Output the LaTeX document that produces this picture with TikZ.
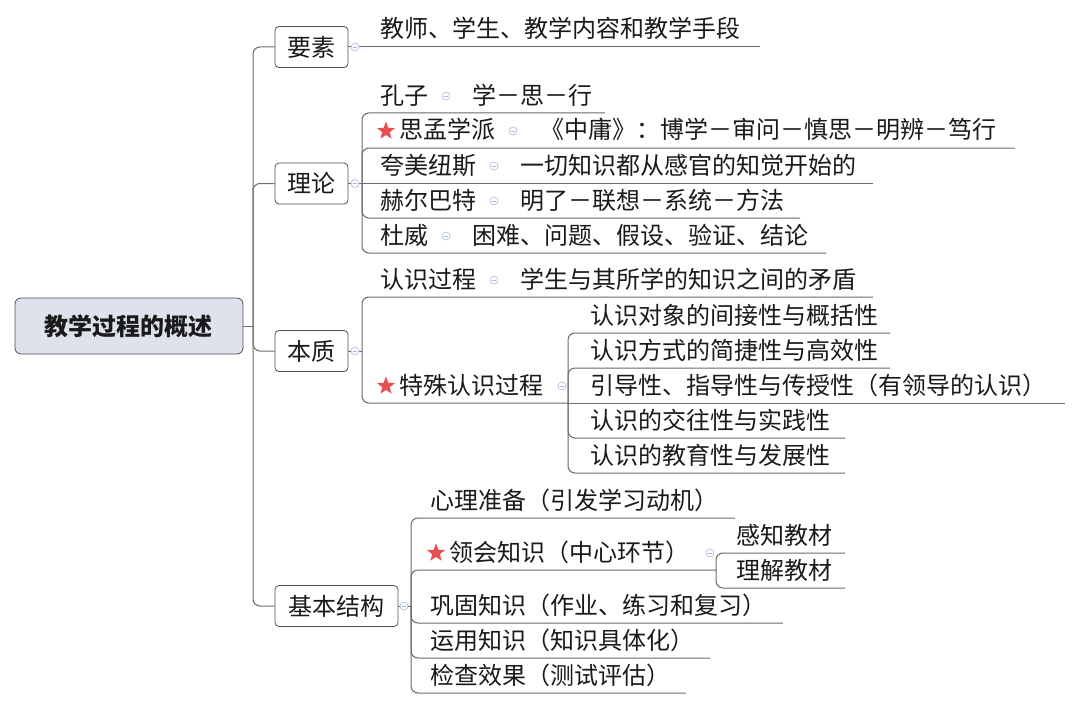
\documentclass[tikz,border=0pt]{standalone}
\usepackage{fontspec}
\newfontfamily\cjk{Noto Sans CJK SC}
\usetikzlibrary{shapes.geometric}
\definecolor{linec}{HTML}{6A6A6A}
\definecolor{boxc}{HTML}{505050}
\definecolor{rootfill}{HTML}{DDE2EC}
\definecolor{iconc}{HTML}{A8B8E0}
\definecolor{starc}{HTML}{E85050}
\definecolor{txtc}{HTML}{1A1A1A}
\tikzset{
  txt/.style={anchor=base west, inner sep=0pt, font=\cjk\fontsize{24}{26}\selectfont, text=txtc},
  topic/.style={draw=boxc, rounded corners=4pt, fill=white, minimum height=41pt, inner sep=0pt, line width=0.8pt, font=\cjk\fontsize{24}{26}\selectfont, text=txtc},
  rootbox/.style={draw=boxc, rounded corners=6pt, fill=rootfill, minimum height=56pt, minimum width=228pt, inner sep=0pt, line width=0.8pt, font=\cjk\bfseries\fontsize{24}{26}\selectfont, text=txtc},
  conn/.style={draw=linec, line width=1pt},
  elbow/.style={conn, rounded corners=7pt},
  iconn/.style={circle, draw=iconc, fill=white, minimum size=8pt, inner sep=0pt, line width=0.6pt,
    path picture={\draw[iconc, line width=0.6pt] ([xshift=-2.2pt]path picture bounding box.center) -- ([xshift=2.2pt]path picture bounding box.center);}},
  starn/.style={star, star points=5, star point ratio=2.4, fill=starc, minimum size=19pt, inner sep=0pt}
}
\begin{document}
\begin{tikzpicture}[x=1pt,y=-1pt]
\useasboundingbox (0,0) rectangle (1080,709);
\fill[white] (0,0) rectangle (1080,709);

% root and main topics
\node[rootbox] (root) at (129,326) {教学过程的概述};
\node[topic, minimum width=73pt] (yaosu) at (311.5,47) {要素};
\node[topic, minimum width=73pt] (lilun) at (311.5,183.5) {理论};
\node[topic, minimum width=73pt] (benzhi) at (311.5,351) {本质};
\node[topic, minimum width=123pt] (jiben) at (336.5,606) {基本结构};

\coordinate (J) at (253,326);
\draw[conn] (root.east) -- (J);
\draw[elbow] (J) -- (253,47) -- (yaosu.west);
\draw[elbow] (J) -- (253,183.5) -- (lilun.west);
\draw[elbow] (J) -- (253,351) -- (benzhi.west);
\draw[elbow] (J) -- (253,606) -- (jiben.west);

% ---------- 要素
\coordinate (ye) at (760,47);
\draw[conn] (yaosu.east) -- (ye);
\node[txt] (y1) at (380,38) {教师、学生、教学内容和教学手段};

% ---------- 理论
\coordinate (B1) at (362,183.5);
\draw[conn] (lilun.east) -- (B1);
\coordinate (l1) at (605,113);
\coordinate (l2) at (1015,148);
\coordinate (l3) at (873,183.5);
\coordinate (l4) at (800,218);
\coordinate (l5) at (826,253);
\draw[elbow] (B1) -- (362,113) -- (l1);
\draw[elbow] (B1) -- (362,148) -- (l2);
\draw[conn] (B1) -- (l3);
\draw[elbow] (B1) -- (362,218) -- (l4);
\draw[elbow] (B1) -- (362,253) -- (l5);

\node[txt] (kz) at (380,104) {孔子};
\node[txt] (kzd) at (472,104) {学－思－行};
\node[starn] (s1) at (386,131) {};
\node[txt] (sm) at (399,139) {思孟学派};
\node[txt] (smd) at (540,139) {《中庸》：博学－审问－慎思－明辨－笃行};
\node[txt] (km) at (380,174.5) {夸美纽斯};
\node[txt] (kmd) at (520,174.5) {一切知识都从感官的知觉开始的};
\node[txt] (he) at (380,209) {赫尔巴特};
\node[txt] (hed) at (520,209) {明了－联想－系统－方法};
\node[txt] (dw) at (380,244) {杜威};
\node[txt] (dwd) at (472,244) {困难、问题、假设、验证、结论};

% ---------- 本质
\coordinate (B2) at (362,351);
\draw[conn] (benzhi.east) -- (B2);
\coordinate (b1) at (873,297);
\coordinate (B3) at (568,403);
\draw[elbow] (B2) -- (362,297) -- (b1);
\draw[elbow] (B2) -- (362,403) -- (B3);
\coordinate (c1) at (890,333);
\coordinate (c2) at (890,368);
\coordinate (c3) at (1065,403);
\coordinate (c4) at (845,438);
\coordinate (c5) at (845,473);
\draw[elbow] (B3) -- (568,333) -- (c1);
\draw[elbow] (B3) -- (568,368) -- (c2);
\draw[conn] (B3) -- (c3);
\draw[elbow] (B3) -- (568,438) -- (c4);
\draw[elbow] (B3) -- (568,473) -- (c5);

\node[txt] (rs) at (380,288) {认识过程};
\node[txt] (rsd) at (520,288) {学生与其所学的知识之间的矛盾};
\node[starn] (s2) at (386,386) {};
\node[txt] (ts) at (399,394) {特殊认识过程};
\node[txt] (t1) at (590,324) {认识对象的间接性与概括性};
\node[txt] (t2) at (590,359) {认识方式的简捷性与高效性};
\node[txt] (t3) at (590,394) {引导性、指导性与传授性（有领导的认识）};
\node[txt] (t4) at (590,429) {认识的交往性与实践性};
\node[txt] (t5) at (590,464) {认识的教育性与发展性};

% ---------- 基本结构
\coordinate (B4) at (411,606);
\draw[conn] (jiben.east) -- (B4);
\coordinate (j1) at (735,518);
\coordinate (B5) at (716,570);
\coordinate (j3) at (783,623);
\coordinate (j4) at (710,658);
\coordinate (j5) at (686,693);
\draw[elbow] (B4) -- (411,518) -- (j1);
\draw[elbow] (B4) -- (411,570) -- (B5);
\draw[elbow] (B4) -- (411,623) -- (j3);
\draw[elbow] (B4) -- (411,658) -- (j4);
\draw[elbow] (B4) -- (411,693) -- (j5);
\coordinate (k1) at (845,553);
\coordinate (k2) at (845,588);
\draw[elbow] (B5) -- (716,553) -- (k1);
\draw[elbow] (B5) -- (716,588) -- (k2);

\node[txt] (x1) at (430,509) {心理准备（引发学习动机）};
\node[starn] (s3) at (436,553) {};
\node[txt] (x2) at (449,561) {领会知识（中心环节）};
\node[txt] (x21) at (736,544) {感知教材};
\node[txt] (x22) at (736,579) {理解教材};
\node[txt] (x3) at (430,614) {巩固知识（作业、练习和复习）};
\node[txt] (x4) at (430,649) {运用知识（知识具体化）};
\node[txt] (x5) at (430,684) {检查效果（测试评估）};

% ---------- collapse icons
\node[iconn] (i1) at (355,47) {};
\node[iconn] (i2) at (355,183.5) {};
\node[iconn] (i3) at (355,351) {};
\node[iconn] (i4) at (404,606) {};
\node[iconn] (i5) at (446,96) {};
\node[iconn] (i6) at (513,131) {};
\node[iconn] (i7) at (494,166) {};
\node[iconn] (i8) at (494,201) {};
\node[iconn] (i9) at (446,236) {};
\node[iconn] (i10) at (494,280) {};
\node[iconn] (i11) at (562,386) {};
\node[iconn] (i12) at (710,553) {};
\end{tikzpicture}
\end{document}
